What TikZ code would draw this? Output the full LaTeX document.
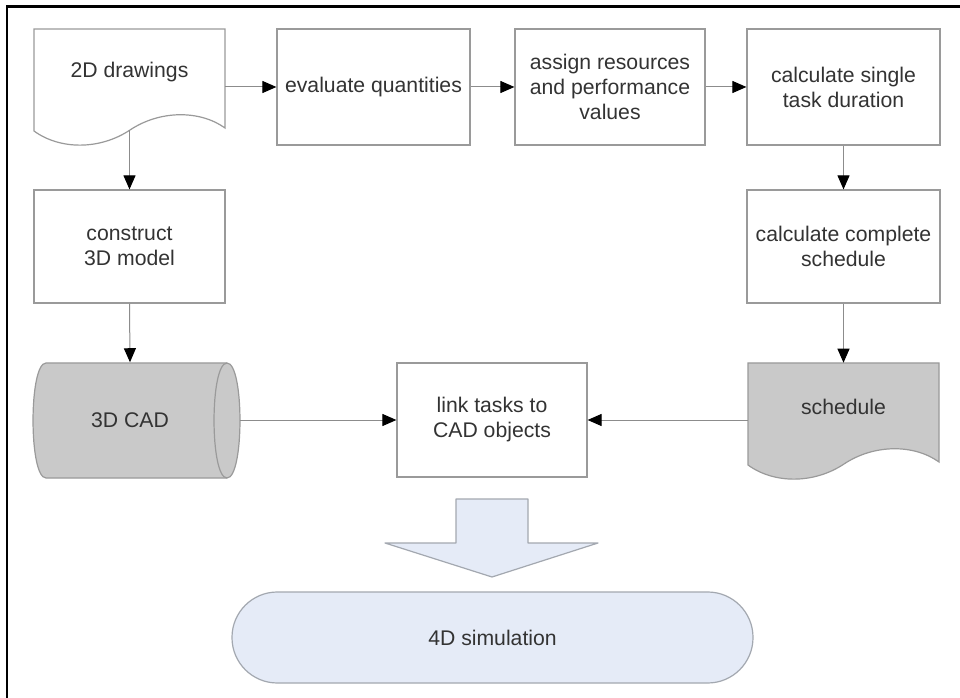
\documentclass[tikz,border=0pt]{standalone}
\usepackage{fontspec}
\setmainfont{Liberation Sans}
\usetikzlibrary{arrows.meta}
\definecolor{edgegray}{HTML}{9A9A9A}
\definecolor{linegray}{HTML}{8C8C8C}
\definecolor{txt}{HTML}{333333}
\definecolor{storefill}{HTML}{C9C9C9}
\definecolor{simfill}{HTML}{E5EBF7}
\definecolor{simedge}{HTML}{A3A8B0}
\tikzset{
  procbox/.style={draw=edgegray, line width=0.9pt, fill=white, text=txt,
    align=center, inner sep=0pt},
  lbl/.style={text=txt, align=center, inner sep=0pt},
  shapeline/.style={draw=edgegray, line width=0.9pt},
  conn/.style={draw=linegray, line width=0.75pt,
    -{Triangle[length=10.5pt, width=9pt, color=black]}},
}
\begin{document}
\begin{tikzpicture}[x=0.75pt, y=-0.75pt, font=\fontsize{15.9}{18.75}\selectfont]
\useasboundingbox (0,0) rectangle (960,698);
\fill[white] (0,0) rectangle (960,698);

% frame (top and left rules)
\draw[line width=1.8pt, black] (7,698) -- (7,6.5) -- (960,6.5);

% document: 2D drawings
\draw[shapeline, fill=white] (34,29) -- (225,29) -- (225,128)
  .. controls (200,110) and (160,110) .. (130,130)
  .. controls (100,150) and (60,150) .. (34,131) -- cycle;
\node[lbl, minimum width=143.25pt, minimum height=87pt] (dwg) at (129.5,72) {2D drawings};

% process boxes
\node[procbox, minimum width=144.75pt, minimum height=87pt] (eval) at (373.5,87) {evaluate quantities};
\node[procbox, minimum width=142.5pt, minimum height=87pt] (assign) at (610,87) {assign resources\\and performance\\values};
\node[procbox, minimum width=144.75pt, minimum height=87pt] (single) at (843.5,87) {calculate single\\task duration};
\node[procbox, minimum width=143.25pt, minimum height=84.75pt] (construct) at (129.5,246.5) {construct\\3D model};
\node[procbox, minimum width=144.75pt, minimum height=84.75pt] (complete) at (843.5,246.5) {calculate complete\\schedule};
\node[procbox, minimum width=142.5pt, minimum height=85.5pt] (link) at (492,420) {link tasks to\\CAD objects};

% stored data: 3D CAD
\draw[shapeline, fill=storefill] (46,363) -- (227,363)
  .. controls (244.3,363) and (244.3,478) .. (227,478) -- (46,478)
  .. controls (28.7,478) and (28.7,363) .. (46,363) -- cycle;
\draw[shapeline] (227,363) .. controls (209.7,363) and (209.7,478) .. (227,478);
\node[lbl, minimum width=165pt, minimum height=86.25pt] (cad) at (130,420) {3D CAD};

% document: schedule
\draw[shapeline, fill=storefill] (748,363) -- (939,363) -- (939,462)
  .. controls (914,444) and (874,444) .. (844,464)
  .. controls (814,484) and (774,484) .. (748,465) -- cycle;
\node[lbl, minimum width=143.25pt, minimum height=66pt] (schedule) at (843.5,407) {schedule};

% connectors
\draw[conn] (dwg.east |- eval.west) -- (eval.west);
\draw[conn] (eval.east) -- (assign.west);
\draw[conn] (assign.east) -- (single.west);
\draw[conn] (dwg.south) -- (construct.north);
\draw[conn] (single.south) -- (complete.north);
\draw[conn] (construct.south) -- (cad.north);
\draw[conn] (complete.south) -- (schedule.north);
\draw[conn] (cad.east) -- (link.west);
\draw[conn] (schedule.west |- link.east) -- (link.east);

% block arrow towards the simulation
\draw[draw=simedge, line width=0.9pt, fill=simfill, line join=round]
  (456,499) -- (528,499) -- (528,543) -- (598,543) -- (492,577)
  -- (385,543) -- (456,543) -- cycle;

% terminator: 4D simulation
\node[draw=simedge, line width=0.9pt, fill=simfill, text=txt, inner sep=0pt,
  rounded corners=34pt, minimum width=390.75pt, minimum height=68.25pt]
  (sim) at (492.5,637.5) {4D simulation};
\end{tikzpicture}
\end{document}
